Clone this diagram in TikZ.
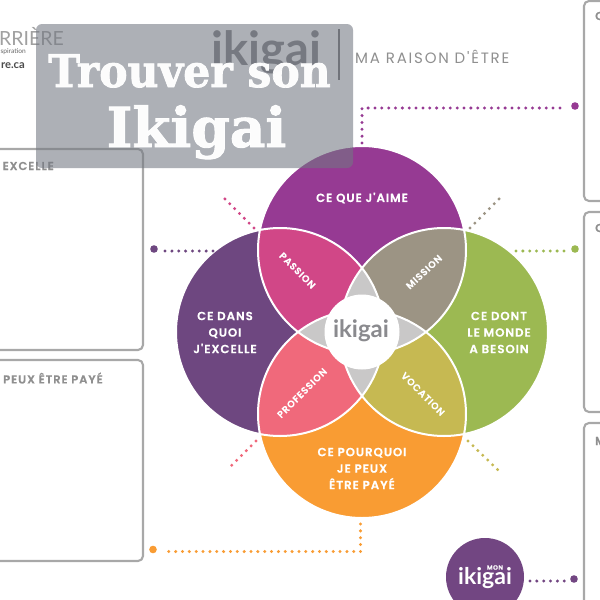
\documentclass[tikz,border=0pt]{standalone}
\usepackage{fontspec}
\setmainfont{Poppins}
\newfontfamily\lab{Poppins SemiBold}[LetterSpace=8,FakeBold=0.4]
\newfontfamily\labw{Poppins}[LetterSpace=12]
\newfontfamily\logo{Lato}
\newfontfamily\lite{Lato}
\newfontfamily\slab{DejaVu Serif Bold}[FakeBold=1.6,FakeStretch=.945]
\newfontfamily\slabb{DejaVu Serif Bold}[FakeBold=1.6]
\definecolor{cTop}{HTML}{963A93}
\definecolor{cLeft}{HTML}{6E4780}
\definecolor{cRight}{HTML}{9CB952}
\definecolor{cBot}{HTML}{F99C33}
\definecolor{cPas}{HTML}{D14787}
\definecolor{cMis}{HTML}{9C9484}
\definecolor{cPro}{HTML}{F0697B}
\definecolor{cVoc}{HTML}{C6B952}
\definecolor{cStar}{HTML}{C9C8C8}
\definecolor{cBox}{HTML}{A8A8A8}
\definecolor{cTxt}{HTML}{8F8F8F}
\definecolor{cLogo}{HTML}{8A8A8E}
\definecolor{cOver}{RGB}{115,120,130}
\tikzset{
  x=1pt,y=-1pt,
  lbl/.style={text=white,font=\lab\fontsize{11.8}{16.5}\selectfont,align=center,inner sep=0pt},
  petal/.style={text=white,font=\lab\fontsize{9.6}{10}\selectfont,inner sep=0pt},
  boxlbl/.style={text=cTxt,font=\lab\fontsize{11.5}{12}\selectfont,inner sep=0pt},
  panel/.style={draw=cBox,line width=2.1pt,rounded corners=5pt},
  dots/.style={line width=3.3pt,line cap=round,dash pattern=on 0pt off 6.85pt},
  bigdot/.style={circle,inner sep=0pt,minimum size=7.6pt},
}
\begin{document}
\begin{tikzpicture}
\useasboundingbox (0,0) rectangle (600,600);
\clip (0,0) rectangle (600,600);
\fill[white] (0,0) rectangle (600,600);
% panels
\draw[panel] (-20,149) rectangle (143,350);
\draw[panel] (-20,360) rectangle (143,561);
\draw[panel] (640,1) rectangle (584,201);
\draw[panel] (640,212) rectangle (584,412);
\draw[panel] (640,423) rectangle (584,640);
\node[boxlbl,anchor=east] (t1) at (54,166) {EXCELLE};
\node[boxlbl,anchor=west] (t2) at (3,378) {PEUX ÊTRE PAYÉ};
\node[boxlbl,anchor=west] (t3) at (595,16) {C};
\node[boxlbl,anchor=west] (t4) at (595,228) {C};
\node[boxlbl,anchor=west] (t5) at (595,441) {M};
% header
\node[anchor=east,text=cTxt!85,inner sep=0pt,font=\lite\fontsize{19.5}{20}\selectfont] (h1) at (64,36) {ARRIÈRE};
\node[anchor=east,text=black!60,inner sep=0pt,font=\lite\fontsize{6.6}{7}\selectfont] (h2) at (26,52) {spiration};
\node[anchor=east,text=black!70,inner sep=0pt,font=\logo\bfseries\fontsize{11.2}{12}\selectfont] (h3) at (25,66) {re.ca};
\node[text=cLogo!90!black,inner sep=0pt,font=\logo\bfseries\fontsize{47}{48}\selectfont] (h4) at (266.5,52) {ikigai};
\coordinate (va) at (339,29);
\coordinate (vb) at (339,80);
\draw[cLogo!80!black,line width=1.4pt] (va) -- (vb);
\node[anchor=west,text=cTxt,inner sep=0pt,font=\labw\fontsize{15}{16}\selectfont] (h5) at (355,57) {MA RAISON D'ÊTRE};
% circles
\def\R{104}
\def\cirT{(362,250) circle (\R)}
\def\cirL{(280,332) circle (\R)}
\def\cirR{(444,332) circle (\R)}
\def\cirB{(362,414) circle (\R)}
\fill[cTop] \cirT; \fill[cLeft] \cirL; \fill[cRight] \cirR; \fill[cBot] \cirB;
\begin{scope}\clip \cirT; \clip \cirL; \fill[cPas] (150,130) rectangle (570,530);\end{scope}
\begin{scope}\clip \cirT; \clip \cirR; \fill[cMis] (150,130) rectangle (570,530);\end{scope}
\begin{scope}\clip \cirB; \clip \cirL; \fill[cPro] (150,130) rectangle (570,530);\end{scope}
\begin{scope}\clip \cirB; \clip \cirR; \fill[cVoc] (150,130) rectangle (570,530);\end{scope}
\begin{scope}\clip \cirT; \clip \cirB; \fill[cStar] (150,130) rectangle (570,530);\end{scope}
\begin{scope}\clip \cirL; \clip \cirR; \fill[cStar] (150,130) rectangle (570,530);\end{scope}
\draw[white,line width=2pt] \cirT \cirL \cirR \cirB;
\node[circle,fill=white,minimum size=75pt,inner sep=0pt] (hub) at (362,332) {};
\node[text=cLogo,inner sep=0pt,font=\logo\bfseries\fontsize{24}{25}\selectfont] (hubt) at (361,331) {ikigai};
% labels
\node[lbl] (n1) at (362,198) {CE QUE J'AIME};
\node[lbl] (n2) at (225,332.5) {CE DANS\\QUOI\\J'EXCELLE};
\node[lbl] (n3) at (499,332.5) {CE DONT\\LE MONDE\\A BESOIN};
\node[lbl] (n4) at (362,468.5) {CE POURQUOI\\JE PEUX\\ÊTRE PAYÉ};
\node[petal,rotate=-45] (p1) at (297.5,270.5) {PASSION};
\node[petal,rotate=43] (p2) at (424,272) {MISSION};
\node[petal,rotate=45] (p3) at (302,393) {PROFESSION};
\node[petal,rotate=-45] (p4) at (423,394) {VOCATION};
% connectors
\coordinate (a1) at (362,143); \coordinate (a2) at (362,108); \coordinate (a3) at (566,108);
\node[bigdot,fill=cTop] (A) at (575,106) {};
\draw[dots,cTop] (a1) -- (a2) -- (a3);
\coordinate (b1) at (254,228); \coordinate (b2) at (224,198);
\draw[dots,cPas] (b1) -- (b2);
\node[bigdot,fill=cLeft] (C) at (154,249) {};
\coordinate (c1) at (213,251); \coordinate (c2) at (162,251);
\draw[dots,cLeft] (c1) -- (c2);
\coordinate (d1) at (470,228); \coordinate (d2) at (500,198);
\draw[dots,cMis] (d1) -- (d2);
\node[bigdot,fill=cRight] (E) at (575,249) {};
\coordinate (e1) at (516,251); \coordinate (e2) at (566,251);
\draw[dots,cRight] (e1) -- (e2);
\coordinate (f1) at (468,441); \coordinate (f2) at (498,470);
\draw[dots,cVoc] (f1) -- (f2);
\coordinate (g1) at (256,441); \coordinate (g2) at (227,470);
\draw[dots,cPro] (g1) -- (g2);
\node[bigdot,fill=cBot] (H) at (153,549.5) {};
\coordinate (h1c) at (360.5,524); \coordinate (h2c) at (360.5,551.5); \coordinate (h3c) at (162,551.5);
\draw[dots,cBot] (h1c) -- (h2c) -- (h3c);
% mon ikigai
\node[circle,fill=cLeft!90!cTop,minimum size=78pt,inner sep=0pt] (mon) at (485,577) {};
\node[text=white,inner sep=0pt,font=\logo\bfseries\fontsize{23}{24}\selectfont] (mon2) at (485,578) {ikigai};
\node[text=white,inner sep=0pt,font=\lab\fontsize{6.2}{7}\selectfont] (mon1) at (495,567.5) {MON};
\node[bigdot,fill=cLeft!90!cTop] (J) at (574,579) {};
\coordinate (j1) at (530,581); \coordinate (j2) at (566,581);
\draw[dots,cLeft!90!cTop] (j1) -- (j2);
% overlay
\node[fill=cOver,fill opacity=.58,rounded corners=6pt,inner sep=0pt,minimum width=317pt,minimum height=144pt] (ov) at (194.5,96) {};
\node[text=white,text opacity=.97,inner sep=0pt,anchor=base,font=\slab\fontsize{45}{46}\selectfont] (ti1) at (189.5,87) {Trouver son};
\node[text=white,text opacity=.97,inner sep=0pt,anchor=base,font=\slabb\fontsize{55}{56}\selectfont] (ti2) at (196.5,147) {Ikigai};
\end{tikzpicture}
\end{document}
